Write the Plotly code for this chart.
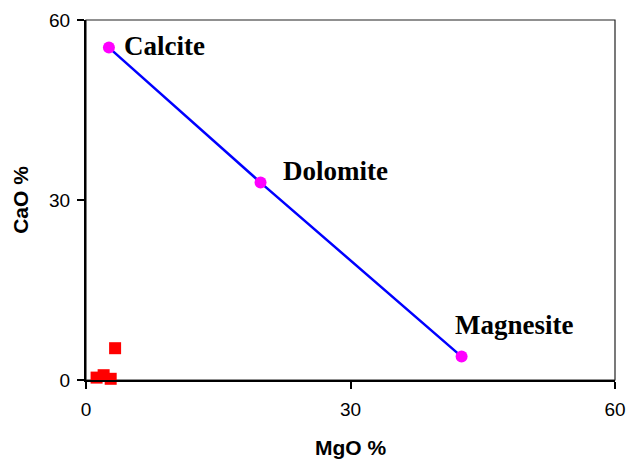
import plotly.graph_objects as go

# Data
mineral_names = ["Calcite", "Dolomite", "Magnesite"]
mineral_mgo = [2.6, 19.8, 42.6]
mineral_cao = [55.4, 32.9, 3.9]

sample_mgo = [1.2, 2.0, 2.8, 3.3]
sample_cao = [0.4, 0.8, 0.2, 5.3]

x_ticks = [0, 30, 60]
y_ticks = [0, 30, 60]

fig = go.Figure()

fig.add_trace(go.Scatter(
    x=mineral_mgo, y=mineral_cao, mode="lines+markers",
    line=dict(color="#0000FF", width=2.5),
    marker=dict(color="#FF00FF", size=12, symbol="circle"),
    showlegend=False, hoverinfo="skip", cliponaxis=False,
))

fig.add_trace(go.Scatter(
    x=sample_mgo, y=sample_cao, mode="markers",
    marker=dict(color="#FF0000", size=12, symbol="square"),
    showlegend=False, hoverinfo="skip", cliponaxis=False,
))

label_shifts = [(13, 2), (20, 12), (-9, 32)]
for name, xv, yv, (dx, dy) in zip(mineral_names, mineral_mgo, mineral_cao, label_shifts):
    fig.add_annotation(
        x=xv, y=yv, text="<b>" + name + "</b>", showarrow=False,
        xanchor="left", yanchor="middle", xshift=dx, yshift=dy,
        font=dict(family="Liberation Serif, Times New Roman, serif", size=27, color="black"),
    )

# thin frame for top/right
fig.add_shape(type="rect", xref="paper", yref="paper", x0=0, y0=0, x1=1, y1=1,
              line=dict(color="#222222", width=1.2), layer="below")

fig.update_xaxes(
    range=[0, 60], tickvals=x_ticks, ticks="outside", ticklen=7, tickwidth=1.5,
    tickcolor="black", showline=True, linecolor="black", linewidth=2,
    showgrid=False, zeroline=False, automargin=False, ticklabelstandoff=4,
    tickfont=dict(family="Liberation Sans, Arial, sans-serif", size=19, color="black"),
    title=dict(text="<b>MgO %</b>", standoff=25,
               font=dict(family="Liberation Sans, Arial, sans-serif", size=21, color="black")),
)
fig.update_yaxes(
    range=[0, 60], tickvals=y_ticks, ticks="outside", ticklen=7, tickwidth=1.5,
    tickcolor="black", showline=True, linecolor="black", linewidth=2,
    showgrid=False, zeroline=False, automargin=False, ticklabelstandoff=3,
    tickfont=dict(family="Liberation Sans, Arial, sans-serif", size=19, color="black"),
    title=dict(text="<b>CaO %</b>", standoff=15,
               font=dict(family="Liberation Sans, Arial, sans-serif", size=21, color="black")),
)

fig.update_layout(
    width=628, height=451,
    margin=dict(l=78, r=21, t=12, b=79),
    plot_bgcolor="white", paper_bgcolor="white",
)

fig.write_html("out.html")
